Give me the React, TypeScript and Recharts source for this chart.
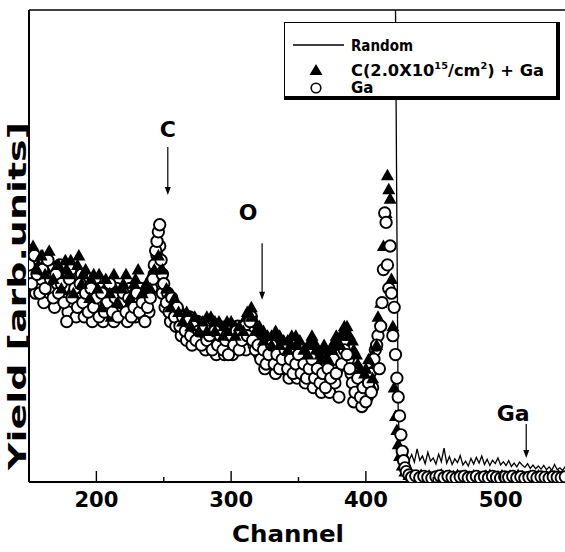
import React from 'react';
import { ComposedChart, Line, Scatter, XAxis, YAxis, ReferenceLine } from 'recharts';

// ---- data ----
const randomChannels = [150, 250, 350, 420, 422, 423, 424, 425, 426, 427,
  428, 430, 432, 434, 436, 438, 440, 442, 444, 446,
  448, 450, 452, 454, 456, 458, 460, 462, 464, 466,
  468, 470, 472, 474, 476, 478, 480, 482, 484, 486,
  488, 490, 492, 494, 496, 498, 500, 502, 504, 506,
  508, 510, 512, 514, 516, 518, 520, 522, 524, 526,
  528, 530, 532, 534, 536, 538, 540, 542, 544, 546,
  548, 550];
const randomYield = [118, 112, 108, 104, 100, 55, 14, 9, 6.5, 5.5,
  4.8, 6.2, 4.5, 5.8, 4.2, 7.0, 4.6, 5.5, 3.9, 6.3,
  4.4, 5.1, 3.8, 5.9, 4.3, 7.2, 4.0, 5.4, 3.7, 4.9,
  4.1, 5.6, 3.6, 4.4, 3.4, 5.0, 3.8, 5.2, 4.0, 5.5,
  3.7, 4.8, 3.5, 4.6, 3.9, 5.1, 3.6, 4.3, 3.5, 4.5,
  3.3, 4.0, 3.2, 4.2, 3.6, 3.1, 3.9, 2.9, 3.6, 2.8,
  3.4, 2.7, 3.5, 2.6, 3.2, 2.5, 3.7, 2.6, 3.0, 2.4,
  3.3, 2.8];

const carbonChannels = [151, 154, 157, 160, 163, 166, 169, 172, 175, 178,
  181, 184, 187, 190, 193, 196, 199, 202, 205, 208,
  211, 214, 217, 220, 223, 226, 229, 232, 235, 238,
  241, 243, 245, 247, 249, 252, 255, 258, 261, 264,
  267, 270, 273, 276, 279, 282, 285, 288, 291, 294,
  297, 300, 303, 306, 309, 312, 315, 318, 321, 324,
  327, 330, 333, 336, 339, 342, 345, 348, 351, 354,
  357, 360, 363, 366, 369, 372, 375, 378, 381, 384,
  386, 388, 391, 394, 397, 400, 403, 405, 407, 409,
  411, 413, 415, 416, 417, 418, 419, 420, 421, 422,
  423, 424, 425, 427, 429, 432, 435, 438, 441, 444,
  447, 450, 453, 456, 459, 462, 465, 468, 471, 474,
  477, 480, 483, 486, 489, 492, 495, 498, 501, 504,
  507, 510, 513, 516, 519, 522, 525, 528, 531, 534,
  537, 540, 543, 546];
const carbonYield = [47, 49, 46, 48, 45, 47, 44, 46, 43, 45,
  47, 42, 48, 44, 41, 43, 40, 44, 39, 42,
  35, 41, 38, 42, 37, 40, 43, 38, 41, 39,
  44, 47, 49, 46, 43, 39, 40, 37, 35, 36,
  34, 35, 33, 34, 32, 35, 33, 34, 31, 33,
  34, 32, 33, 31, 34, 35, 37, 34, 31, 32,
  29, 31, 30, 31, 28, 30, 29, 31, 28, 27,
  29, 30, 28, 26, 28, 27, 29, 30, 31, 32,
  33, 31, 28, 25, 22, 24, 21, 27, 25, 35,
  38, 50, 57, 65, 62, 60, 43, 33, 20, 14,
  11, 8, 5.5, 3.5, 2.2, 1.5, 1.3, 1.1, 1.5, 1.2,
  1.4, 1.0, 1.3, 1.6, 1.1, 1.4, 1.2, 1.5, 1.0, 1.3,
  1.1, 1.4, 1.2, 1.0, 1.3, 1.5, 1.1, 1.2, 1.4, 1.0,
  1.3, 1.1, 1.5, 1.2, 1.0, 1.3, 1.1, 1.4, 1.0, 1.2,
  1.3, 1.1, 1.4, 1.2];
const carbonChannelsB = [153, 156, 159, 162, 165, 168, 171, 174, 177, 180,
  183, 186, 189, 192, 195, 198, 201, 204, 207, 210,
  213, 216, 219, 222, 225, 228, 231, 234, 237, 240,
  243, 246, 249, 252, 255, 258, 261, 264, 267, 270,
  273, 276, 279, 282, 285, 288, 291, 294, 297, 300,
  303, 306, 309, 312, 315, 318, 321, 324, 327, 330,
  333, 336, 339, 342, 345, 348, 351, 354, 357, 360,
  363, 366, 369, 372, 375, 378, 381, 384, 387, 390,
  393, 396, 399, 402, 405, 408];
const carbonYieldB = [50, 45, 48, 44, 49, 43, 46, 41, 47, 44,
  40, 46, 42, 45, 39, 44, 41, 37, 43, 40,
  44, 38, 41, 44, 39, 42, 45, 40, 42, 41,
  45, 48, 45, 41, 37, 39, 36, 34, 36, 33,
  35, 32, 34, 32, 35, 32, 34, 31, 32, 34,
  31, 33, 32, 36, 35, 32, 33, 30, 31, 29,
  32, 29, 30, 28, 31, 29, 30, 28, 27, 31,
  29, 27, 29, 26, 28, 31, 29, 33, 31, 30,
  27, 24, 23, 26, 22, 29];

const gaChannels = [150, 152, 154, 156, 158, 160, 162, 164, 166, 168,
  170, 172, 174, 176, 178, 180, 182, 184, 186, 188,
  190, 192, 194, 196, 198, 200, 202, 204, 206, 208,
  210, 212, 214, 216, 218, 220, 222, 224, 226, 228,
  230, 232, 234, 236, 238, 240, 242, 243, 244, 245,
  246, 247, 248, 249, 250, 252, 254, 256, 258, 260,
  262, 264, 266, 268, 270, 272, 274, 276, 278, 280,
  282, 284, 286, 288, 290, 292, 294, 296, 298, 300,
  302, 304, 306, 308, 310, 312, 314, 316, 318, 320,
  322, 324, 326, 328, 330, 332, 334, 336, 338, 340,
  342, 344, 346, 348, 350, 352, 354, 356, 358, 360,
  362, 364, 366, 368, 370, 372, 374, 376, 378, 380,
  382, 384, 386, 388, 390, 392, 394, 396, 398, 400,
  402, 404, 406, 408, 410, 411, 412, 413, 414, 415,
  416, 417, 418, 419, 420, 421, 422, 423, 424, 425,
  426, 427, 428, 429, 430, 432, 434, 437, 440, 443,
  446, 449, 452, 455, 458, 461, 464, 467, 470, 473,
  476, 479, 482, 485, 488, 491, 494, 497, 500, 503,
  506, 509, 512, 515, 518, 521, 524, 527, 530, 533,
  536, 539, 542, 545, 548];
const gaYield = [46, 42, 48, 44, 40, 45, 41, 47, 43, 39,
  44, 40, 42, 38, 34, 43, 39, 41, 37, 42,
  38, 40, 36, 41, 37, 39, 35, 40, 36, 38,
  42, 36, 39, 35, 38, 40, 36, 39, 35, 37,
  40, 36, 38, 34, 37, 39, 43, 46, 49, 51,
  53, 54.5, 47, 44, 42, 38, 36, 39, 35, 37,
  33, 35, 32, 34, 31, 33, 30, 32, 29, 33,
  30, 31, 28, 32, 29, 31, 28, 30, 27, 31,
  29, 32, 28, 30, 33, 31, 34, 30, 28, 29,
  26, 28, 25, 27, 29, 25, 27, 24, 26, 28,
  24, 26, 23, 25, 27, 23, 25, 22, 24, 26,
  22, 24, 21, 23, 20, 24, 22, 26, 23, 18,
  25, 28, 27, 24, 21, 19, 22, 18, 20, 17,
  21, 19, 26, 29, 24, 33, 38, 45, 57, 55,
  46, 41, 50, 40, 31, 37, 27, 22, 18, 14,
  10, 6.5, 4.5, 3, 2.2, 1.5, 1.0, 1.3, 0.9, 1.2,
  1.0, 0.8, 1.1, 1.3, 0.9, 1.2, 1.0, 0.8, 1.1, 1.2,
  0.9, 1.0, 1.2, 0.8, 1.1, 0.9, 1.2, 1.0, 0.8, 1.1,
  1.0, 1.2, 0.9, 1.1, 0.8, 1.0, 1.2, 0.9, 1.1, 1.0,
  0.8, 1.1, 1.0, 0.9, 1.1];
const gaChannelsB = [151, 153, 155, 157, 159, 161, 163, 165, 167, 169,
  171, 173, 175, 177, 179, 181, 183, 185, 187, 189,
  191, 193, 195, 197, 199, 201, 203, 205, 207, 209,
  211, 213, 215, 217, 219, 221, 223, 225, 227, 229,
  231, 233, 235, 237, 239, 241, 243, 245, 247, 249,
  251, 253, 255, 257, 259, 261, 263, 265, 267, 269,
  271, 273, 275, 277, 279, 281, 283, 285, 287, 289,
  291, 293, 295, 297, 299, 301, 303, 305, 307, 309,
  311, 313, 315, 317, 319, 321, 323, 325, 327, 329,
  331, 333, 335, 337, 339, 341, 343, 345, 347, 349,
  351, 353, 355, 357, 359, 361, 363, 365, 367, 369,
  371, 373, 375, 377, 379, 381, 383, 385, 387, 389,
  391, 393, 395, 397, 399, 401, 403, 405, 407, 409];
const gaYieldB = [49, 44, 40, 47, 43, 38, 46, 41, 45, 37,
  42, 46, 39, 41, 36, 45, 40, 35, 39, 44,
  35, 42, 38, 34, 43, 37, 41, 34, 39, 36,
  40, 34, 41, 37, 35, 39, 34, 41, 38, 35,
  38, 41, 35, 39, 36, 41, 44, 48, 50, 40,
  37, 40, 34, 37, 33, 36, 31, 34, 30, 35,
  29, 32, 34, 30, 32, 28, 33, 29, 31, 27,
  30, 32, 27, 29, 32, 27, 30, 33, 29, 31,
  28, 32, 35, 29, 31, 27, 29, 24, 28, 26,
  28, 23, 26, 28, 24, 26, 22, 27, 24, 22,
  26, 24, 21, 26, 23, 20, 25, 23, 19, 24,
  22, 19, 25, 21, 24, 27, 29, 30, 26, 23,
  17, 24, 20, 16, 22, 18, 23, 20, 28, 31];

const xTicks = [200, 250, 300, 350, 400, 450, 500];
const xTickLabels = [200, 300, 400, 500];

const annotationLabels = ['C', 'O', 'Ga'];
const annotationChannels = [253, 323, 519];
const annotationFrom = [71, 50.6, 12.3];
const annotationTo = [60.8, 38.6, 5.1];

const legendLabels = ['Random', 'C(2.0X10', 'Ga'];

// ---- build ----
const randomData = randomChannels.map((ch, i) => ({ ch, y: randomYield[i] }));
const carbonDataA = carbonChannels.map((ch, i) => ({ ch, y: carbonYield[i] }));
const carbonDataB = carbonChannelsB.map((ch, i) => ({ ch, y: carbonYieldB[i] }));
const gaDataA = gaChannels.map((ch, i) => ({ ch, y: gaYield[i] }));
const gaDataB = gaChannelsB.map((ch, i) => ({ ch, y: gaYieldB[i] }));

const FONT = '"DejaVu Sans", "Liberation Sans", Arial, sans-serif';

const Triangle = (props: any) => {
  const { cx, cy } = props;
  if (cx == null || cy == null) return null;
  return <path d={`M${cx},${cy - 6.5}L${cx + 6.5},${cy + 5}L${cx - 6.5},${cy + 5}Z`} fill="#000" />;
};

const Circle = (props: any) => {
  const { cx, cy } = props;
  if (cx == null || cy == null) return null;
  return <circle cx={cx} cy={cy} r={5.7} fill="#fff" stroke="#000" strokeWidth={1.9} />;
};

const XTick = (props: any) => {
  const { x, y, payload } = props;
  const v = payload.value;
  const major = xTickLabels.includes(v);
  return (
    <g>
      <line x1={x} y1={y} x2={x} y2={y - (major ? 11 : 5)} stroke="#000" strokeWidth={1.4} />
      {major && (
        <text x={x} y={y + 25} textAnchor="middle" fontFamily={FONT} fontWeight={900}
          fontSize={21} textLength={44} lengthAdjust="spacingAndGlyphs" fill="#000">{v}</text>
      )}
    </g>
  );
};

const labelDx: Record<string, number> = { C: 0, O: -14, Ga: -13 };
const labelDy: Record<string, number> = { C: -10, O: -23, Ga: -3 };

const makeArrow = (label: string) => (props: any) => {
  const { x1, y1, x2, y2 } = props;
  return (
    <g>
      <line x1={x1} y1={y1} x2={x2} y2={y2 - 6} stroke="#000" strokeWidth={1.2} />
      <path d={`M${x2 - 3},${y2 - 8}L${x2 + 3},${y2 - 8}L${x2},${y2}Z`} fill="#000" />
      <text x={x1 + labelDx[label]} y={y1 + labelDy[label]} textAnchor="middle" fontFamily={FONT} fontWeight={900}
        fontSize={22} fill="#000">{label}</text>
    </g>
  );
};

const YLabel = () => (
  <text x={26} y={296} transform="rotate(-90, 26, 296)" textAnchor="middle" fontFamily={FONT}
    fontWeight={900} fontSize={25} textLength={348} lengthAdjust="spacingAndGlyphs" fill="#000">
    Yield [arb.units]
  </text>
);

const XLabel = () => (
  <text x={288} y={542} textAnchor="middle" fontFamily={FONT} fontWeight={900} fontSize={23}
    textLength={112} lengthAdjust="spacingAndGlyphs" fill="#000">Channel</text>
);

const LegendBox = () => (
  <div style={{ position: 'absolute', left: 284, top: 22, width: 271, height: 73, background: '#fff',
    border: '1.5px solid #000', borderRightWidth: 4, borderBottomWidth: 4 }}>
    <svg width={271} height={73} style={{ display: 'block' }}>
      <line x1={8} y1={22} x2={59} y2={22} stroke="#000" strokeWidth={1.5} />
      <text x={66} y={28} fontFamily={FONT} fontWeight={700} fontSize={15} fill="#000"
        textLength={62} lengthAdjust="spacingAndGlyphs">{legendLabels[0]}</text>
      <path d="M31,41L37.5,52L24.5,52Z" fill="#000" />
      <text x={66} y={53} fontFamily={FONT} fontWeight={700} fontSize={15} fill="#000"
        textLength={193} lengthAdjust="spacingAndGlyphs">
        {legendLabels[1]}<tspan fontSize={9} dy={-7}>15</tspan><tspan dy={7}>/cm</tspan>
        <tspan fontSize={9} dy={-7}>2</tspan><tspan dy={7}>) + Ga</tspan>
      </text>
      <circle cx={31} cy={65} r={4.8} fill="#fff" stroke="#000" strokeWidth={1.6} />
      <text x={66} y={70} fontFamily={FONT} fontWeight={700} fontSize={15} fill="#000">{legendLabels[2]}</text>
    </svg>
  </div>
);

export default function App() {
  return (
    <div style={{ position: 'absolute', left: 0, top: 0, width: 565, height: 552, overflow: 'hidden', background: '#fff' }}>
      <ComposedChart width={568} height={552} margin={{ top: 10, right: 0, bottom: 30, left: 28 }}>
        <XAxis dataKey="ch" type="number" domain={[150, 550]} ticks={xTicks} allowDataOverflow
          height={40} tickSize={0} tickMargin={0} tickLine={false} tick={<XTick />}
          axisLine={{ stroke: '#000', strokeWidth: 2 }} label={<XLabel />} />
        <YAxis dataKey="y" type="number" domain={[0, 100]} allowDataOverflow width={1}
          tick={false} tickLine={false} axisLine={{ stroke: '#000', strokeWidth: 2 }} label={<YLabel />} />
        <ReferenceLine y={100} stroke="#000" strokeWidth={1.5} ifOverflow="visible" />
        <Line data={randomData} dataKey="y" type="linear" stroke="#000" strokeWidth={1.3}
          dot={false} isAnimationActive={false} />
        <Scatter data={gaDataB} dataKey="y" shape={<Circle />} isAnimationActive={false} />
        <Scatter data={carbonDataA} dataKey="y" shape={<Triangle />} isAnimationActive={false} />
        <Scatter data={gaDataA} dataKey="y" shape={<Circle />} isAnimationActive={false} />
        <Scatter data={carbonDataB} dataKey="y" shape={<Triangle />} isAnimationActive={false} />
        {annotationLabels.map((label, i) => (
          <ReferenceLine key={label} ifOverflow="visible"
            segment={[{ x: annotationChannels[i], y: annotationFrom[i] }, { x: annotationChannels[i], y: annotationTo[i] }]}
            shape={makeArrow(label)} />
        ))}
      </ComposedChart>
      <LegendBox />
    </div>
  );
}
